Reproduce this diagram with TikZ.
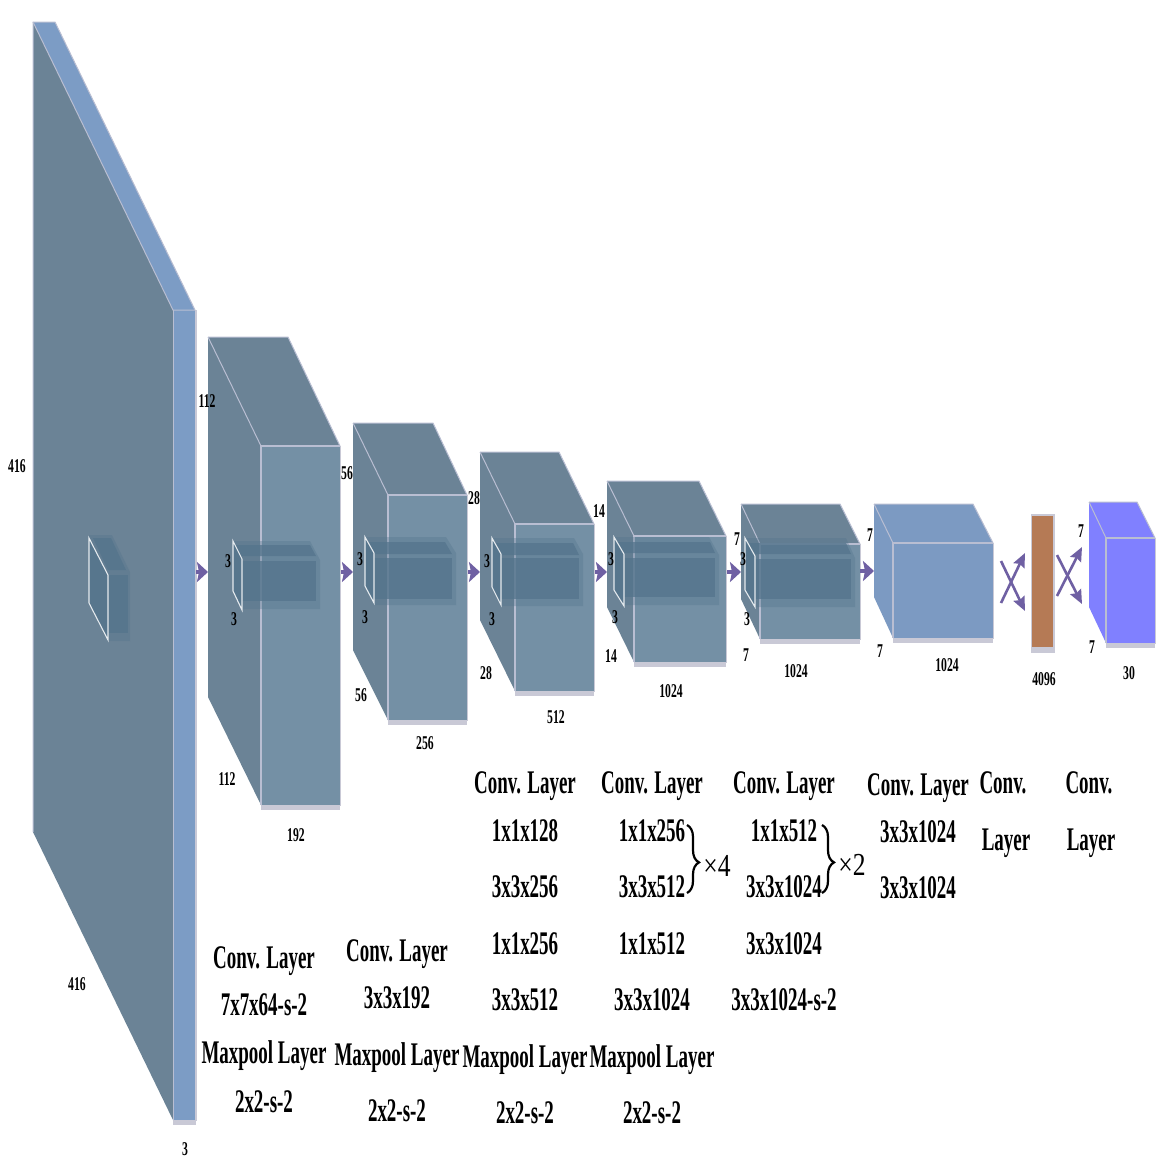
\documentclass[tikz,border=0pt]{standalone}
\usepackage{fontspec}
\usetikzlibrary{arrows.meta,decorations.pathreplacing}
\newfontfamily\biglab[FakeStretch=0.575]{Liberation Serif}
\newfontfamily\smalllab[FakeStretch=0.6]{Liberation Serif}
\newfontfamily\timeslab[FakeStretch=0.8]{Liberation Serif}
\definecolor{sideC}{HTML}{6B8396}
\definecolor{frontC}{HTML}{7490A5}
\definecolor{stripC}{HTML}{7C9CC5}
\definecolor{edgeC}{HTML}{B9BED2}
\definecolor{greyC}{HTML}{C9C9D6}
\definecolor{arrowC}{HTML}{6F60A3}
\definecolor{darkC}{HTML}{54748C}
\definecolor{blueC}{HTML}{7C9AC2}
\definecolor{violetC}{HTML}{8080FF}
\definecolor{orangeC}{HTML}{B57A55}
\newcounter{lab}
\newcommand{\smalltxt}[3]{\stepcounter{lab}\node[smalltext] (s\thelab) at (#1,#2) {#3};}
\newcommand{\bigtxt}[3]{\stepcounter{lab}\node[bigtext] (b\thelab) at (#1,#2) {#3};}
% \cube{backL}{backT}{backR}{frontL}{frontR}{frontT}{frontB}{backB}{sideCol}
\newcommand{\cube}[9]{%
  \fill[greyC] (#4,#7) rectangle (#5,#7+5);
  \fill[greyC] (#5-1,#6) rectangle (#5+1,#7+1);
  \fill[#9] (#1,#2) -- (#3,#2) -- (#5,#6) -- (#4,#6) -- cycle;
  \fill[#9] (#1,#2) -- (#4,#6) -- (#4,#7) -- (#1,#8) -- cycle;
  \draw[edgeC,line width=1] (#1,#2) -- (#3,#2) -- (#5,#6);
  \draw[edgeC,line width=1] (#1,#2) -- (#4,#6);
}
\newcommand{\frontface}[5]{%
  \fill[#5] (#1,#3) rectangle (#2,#4);
  \draw[edgeC,line width=1.2] (#1,#4) -- (#1,#3) -- (#2,#3);
}
\newcommand{\kernel}[6]{%
  \draw[white!85!darkC,line width=1.1] (#1,#2) -- (#3,#4) -- (#3,#5) -- (#1,#6) -- cycle;
}
\tikzset{
  smalltext/.style={font=\smalllab\bfseries\fontsize{19.5}{19.5}\selectfont,inner sep=0pt,text=black,text height=13,text depth=0},
  bigtext/.style={font=\biglab\bfseries\fontsize{33}{33}\selectfont,inner sep=0pt,text=black,text height=21.5,text depth=0},
  timestext/.style={font=\timeslab\fontsize{32}{32}\selectfont,inner sep=0pt,text=black},
  blockarrow/.style={arrowC,line width=4,-{Stealth[length=11,width=20,inset=2]}},
  thinarrow/.style={arrowC,line width=2.6,-{Stealth[length=14,width=12,inset=2]}},
  bracestyle/.style={black,line width=2.2,decorate,decoration={brace,amplitude=12pt,aspect=.55}},
  halo/.style={fill=darkC,fill opacity=.35},
  core/.style={fill=darkC,fill opacity=.75},
}
\begin{document}
\begin{tikzpicture}[x=1pt,y=-1pt]
\useasboundingbox (0,0) rectangle (1176,1176);
\fill[white] (0,0) rectangle (1176,1176);

% Layer 1
\fill[greyC] (173,1120) rectangle (196,1125);
\fill[greyC] (195,310) rectangle (197,1121);
\fill[stripC] (33,22) -- (55,22) -- (195,310) -- (173,310) -- cycle;
\fill[sideC] (33,22) -- (173,310) -- (173,1120) -- (33,832) -- cycle;
\fill[stripC] (173,310) rectangle (195,1120);
\draw[edgeC,line width=1] (33,832) -- (33,22) -- (55,22) -- (195,310);
\draw[edgeC,line width=1] (33,22) -- (173,310) -- (195,310);
\draw[edgeC,line width=1] (173,310) -- (173,1120);
% kernel in layer 1
\fill[halo] (89,535) -- (112,535) -- (130,572) -- (130,641) -- (108,641) -- (89,603) -- cycle;
\fill[core] (93,538) -- (111,538) -- (126,570) -- (108,570) -- cycle;
\fill[core] (108,575) rectangle (128,633);
\fill[core] (89,538) -- (108,575) -- (108,640) -- (89,603) -- cycle;
\kernel{89}{538}{108}{575}{640}{603}

% Layer 2
\cube{208}{337}{288}{261}{340}{446}{805}{697}{sideC}
\frontface{261}{340}{446}{805}{frontC}
\fill[halo] (233,541) -- (310,541) -- (320,560) -- (320,609) -- (242,609) -- (233,591) -- cycle;
\fill[core] (235,545) -- (310,545) -- (316,556) -- (241,556) -- cycle;
\fill[core] (242,561) rectangle (316,601);
\fill[core] (233,541) -- (242,559) -- (242,610) -- (233,591) -- cycle;
\kernel{233}{541}{242}{559}{610}{591}

% Layer 3
\cube{353}{423}{433}{388}{467}{495}{720}{650}{sideC}
\frontface{388}{467}{495}{720}{frontC}
\fill[halo] (365,537) -- (446,537) -- (456,553) -- (456,605) -- (374,605) -- (365,586) -- cycle;
\fill[core] (367,542) -- (445,542) -- (452,554) -- (373,554) -- cycle;
\fill[core] (374,558) rectangle (452,599);
\fill[core] (365,537) -- (374,553) -- (374,603) -- (365,586) -- cycle;
\kernel{365}{537}{374}{553}{603}{586}

% Layer 4
\cube{480}{452}{559}{515}{594}{524}{691}{620}{sideC}
\frontface{515}{594}{524}{691}{frontC}
\fill[halo] (492,538) -- (574,538) -- (583,554) -- (583,606) -- (501,606) -- (492,587) -- cycle;
\fill[core] (494,543) -- (573,543) -- (579,555) -- (500,555) -- cycle;
\fill[core] (501,558) rectangle (579,599);
\fill[core] (492,538) -- (501,554) -- (501,605) -- (492,587) -- cycle;
\kernel{492}{538}{501}{554}{605}{587}

% Layer 5
\cube{607}{481}{699}{634}{726}{536}{662}{607}{sideC}
\frontface{634}{726}{536}{662}{frontC}
\fill[halo] (614,537) -- (709,537) -- (719,555) -- (719,605) -- (624,605) -- (614,590) -- cycle;
\fill[core] (616,542) -- (710,542) -- (715,553) -- (624,553) -- cycle;
\fill[core] (624,558) rectangle (715,597);
\fill[core] (614,537) -- (624,554) -- (624,606) -- (614,590) -- cycle;
\kernel{614}{537}{624}{554}{606}{590}

% Layer 6
\cube{741}{504}{840}{760}{860}{544}{639}{599}{sideC}
\frontface{760}{860}{544}{639}{frontC}
\fill[halo] (745,538) -- (846,538) -- (855,558) -- (855,607) -- (755,607) -- (745,590) -- cycle;
\fill[core] (747,543) -- (846,543) -- (851,554) -- (755,554) -- cycle;
\fill[core] (755,559) rectangle (851,599);
\fill[core] (745,538) -- (755,556) -- (755,607) -- (745,590) -- cycle;
\kernel{745}{538}{755}{556}{607}{590}

% Layer 7
\cube{874}{504}{973}{893}{993}{543}{638}{597}{blueC}
\frontface{893}{993}{543}{638}{blueC}

% Layer 8: fully connected bar
\fill[greyC] (1031,514) rectangle (1055,653);
\fill[orangeC] (1032,516) rectangle (1053,647);

% Layer 9
\cube{1089}{502}{1137}{1106}{1155}{538}{643}{607}{violetC}
\frontface{1106}{1155}{538}{643}{violetC}

% Connectors
\foreach \n/\xa/\ya/\xb/\yb in {a/196/572/208/572,b/341/572/353/572,c/468/572/480/572,d/595/572/607/572,e/727/572/741/572,f/860/571/874/571}{
  \coordinate (\n1) at (\xa,\ya);
  \coordinate (\n2) at (\xb,\yb);
  \draw[blockarrow] (\n1) -- (\n2);
}
\foreach \n/\xa/\ya/\xb/\yb in {g/1001/561/1025/611,h/1001/603/1025/553,i/1057/555/1082/604,j/1057/596/1082/547}{
  \coordinate (\n1) at (\xa,\ya);
  \coordinate (\n2) at (\xb,\yb);
  \draw[thinarrow] (\n1) -- (\n2);
}

% Dimension labels
\smalltxt{17}{466}{416}
\smalltxt{77}{984}{416}
\smalltxt{185}{1149}{3}
\smalltxt{207}{401}{112}
\smalltxt{227}{779}{112}
\smalltxt{296}{835}{192}
\smalltxt{347}{473}{56}
\smalltxt{361}{695}{56}
\smalltxt{425}{743}{256}
\smalltxt{474}{498}{28}
\smalltxt{486}{673}{28}
\smalltxt{556}{717}{512}
\smalltxt{599}{511}{14}
\smalltxt{611}{656}{14}
\smalltxt{671}{691}{1024}
\smalltxt{737}{539}{7}
\smalltxt{746}{655}{7}
\smalltxt{796}{671}{1024}
\smalltxt{870}{535}{7}
\smalltxt{880}{651}{7}
\smalltxt{947}{665}{1024}
\smalltxt{1044}{679}{4096}
\smalltxt{1129}{673}{30}
\smalltxt{1081}{531}{7}
\smalltxt{1092}{647}{7}
\smalltxt{228}{561}{3}
\smalltxt{234}{619}{3}
\smalltxt{360}{559}{3}
\smalltxt{365}{617}{3}
\smalltxt{487}{561}{3}
\smalltxt{492}{619}{3}
\smalltxt{611}{559}{3}
\smalltxt{615}{617}{3}
\smalltxt{743}{559}{3}
\smalltxt{747}{619}{3}

% Layer descriptions
\bigtxt{264}{958}{Conv. Layer}
\bigtxt{264}{1005}{7x7x64-s-2}
\bigtxt{264}{1053}{Maxpool Layer}
\bigtxt{264}{1102}{2x2-s-2}
\bigtxt{397}{951}{Conv. Layer}
\bigtxt{397}{998}{3x3x192}
\bigtxt{397}{1055}{Maxpool Layer}
\bigtxt{397}{1111}{2x2-s-2}
\bigtxt{525}{783}{Conv. Layer}
\bigtxt{525}{831}{1x1x128}
\bigtxt{525}{887}{3x3x256}
\bigtxt{525}{944}{1x1x256}
\bigtxt{525}{1000}{3x3x512}
\bigtxt{525}{1057}{Maxpool Layer}
\bigtxt{525}{1113}{2x2-s-2}
\bigtxt{652}{783}{Conv. Layer}
\bigtxt{652}{831}{1x1x256}
\bigtxt{652}{887}{3x3x512}
\bigtxt{652}{944}{1x1x512}
\bigtxt{652}{1000}{3x3x1024}
\bigtxt{652}{1057}{Maxpool Layer}
\bigtxt{652}{1113}{2x2-s-2}
\bigtxt{784}{783}{Conv. Layer}
\bigtxt{784}{831}{1x1x512}
\bigtxt{784}{887}{3x3x1024}
\bigtxt{784}{944}{3x3x1024}
\bigtxt{784}{1000}{3x3x1024-s-2}
\bigtxt{918}{785}{Conv. Layer}
\bigtxt{918}{832}{3x3x1024}
\bigtxt{918}{888}{3x3x1024}
\bigtxt{1003}{783}{Conv.}
\bigtxt{1006}{840}{Layer}
\bigtxt{1089}{783}{Conv.}
\bigtxt{1091}{840}{Layer}

% Braces
\coordinate (br1a) at (687,825);
\coordinate (br1b) at (687,893);
\coordinate (br2a) at (822,825);
\coordinate (br2b) at (822,893);
\draw[bracestyle] (br1a) -- (br1b);
\draw[bracestyle] (br2a) -- (br2b);
\node[timestext] (times4) at (717,866) {×4};
\node[timestext] (times2) at (852,865) {×2};
\end{tikzpicture}
\end{document}
